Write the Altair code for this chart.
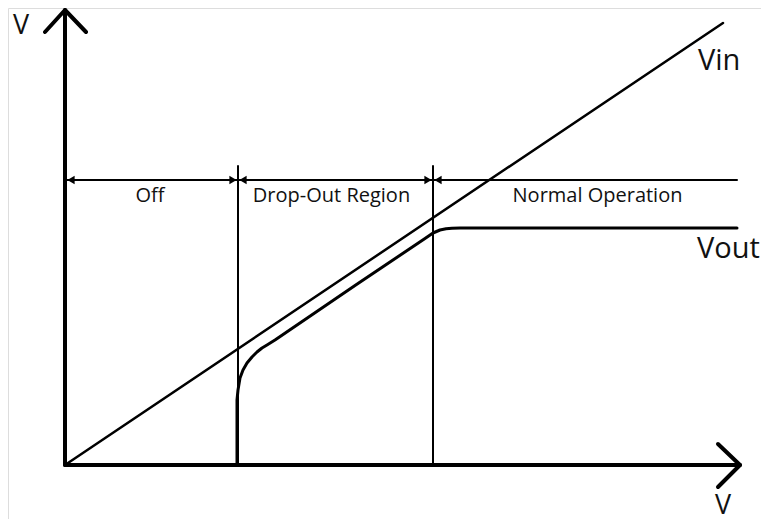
import altair as alt
import pandas as pd

# Coordinates in diagram units (origin at the axes' corner)
yaxis_x = [0, 0]; yaxis_y = [0, 455]
yarrow_x = [-20, 0, 21]; yarrow_y = [433, 455, 433]
xaxis_x = [0, 675]; xaxis_y = [0, 0]
xarrow_x = [653, 675, 653]; xarrow_y = [21, 0, -22]
vin_x = [0, 658]; vin_y = [0, 442]
vout_x = [172, 172, 173, 175, 178, 182, 187, 192, 197, 202, 210, 290, 360, 368, 375, 381, 387, 395, 672]
vout_y = [0, 65, 75, 87, 95, 102, 108, 113, 117, 120, 125, 179.5, 226.5, 232, 235, 236.2, 236.8, 237, 237]
hline_x = [0, 672]; hline_y = [285, 285]
v1_x = [173, 173]; v1_y = [0, 299]
v2_x = [368, 368]; v2_y = [0, 299]

segments = [
    ("yaxis", yaxis_x, yaxis_y, 4),
    ("yarrow", yarrow_x, yarrow_y, 4),
    ("xaxis", xaxis_x, xaxis_y, 4),
    ("xarrow", xarrow_x, xarrow_y, 4),
    ("vin", vin_x, vin_y, 2.5),
    ("vout", vout_x, vout_y, 3),
    ("hline", hline_x, hline_y, 2),
    ("v1", v1_x, v1_y, 2),
    ("v2", v2_x, v2_y, 2),
]

rows = []
for name, xs_, ys_, w in segments:
    for i, (x, y) in enumerate(zip(xs_, ys_)):
        rows.append({"seg": name, "i": i, "x": x, "y": y, "w": w})
lines_df = pd.DataFrame(rows)

# arrowheads on the region line
tri_x = [6, 168, 178, 363, 373]
tri_y = [285, 285, 285, 285, 285]
tri_shape = ["triangle-left", "triangle-right", "triangle-left", "triangle-right", "triangle-left"]
tri_df = pd.DataFrame({"x": tri_x, "y": tri_y, "shape": tri_shape})

# labels
region_labels = ["Off", "Drop-Out Region", "Normal Operation"]
region_x = [85, 266.5, 532.5]
region_y = [263, 263, 263]
region_df = pd.DataFrame({"t": region_labels, "x": region_x, "y": region_y})

big_labels = ["Vin", "Vout"]
big_x = [633, 632]
big_y = [395, 207]
big_df = pd.DataFrame({"t": big_labels, "x": big_x, "y": big_y})

axis_labels = ["V", "V"]
axis_lx = [-52, 650]
axis_ly = [431, -49]
axis_df = pd.DataFrame({"t": axis_labels, "x": axis_lx, "y": axis_ly})

xs = alt.Scale(domain=[-57, 696], nice=False, zero=False)
ys = alt.Scale(domain=[-54, 457], nice=False, zero=False)

lines = alt.Chart(lines_df).mark_line(color="black", strokeCap="round", strokeJoin="round").encode(
    x=alt.X("x:Q", scale=xs, axis=None),
    y=alt.Y("y:Q", scale=ys, axis=None),
    detail="seg:N",
    order="i:Q",
    strokeWidth=alt.StrokeWidth("w:Q", scale=None),
)

tris = alt.Chart(tri_df).mark_point(filled=True, color="black", size=70, opacity=1).encode(
    x=alt.X("x:Q", scale=xs, axis=None),
    y=alt.Y("y:Q", scale=ys, axis=None),
    shape=alt.Shape("shape:N", scale=None),
)

region_text = alt.Chart(region_df).mark_text(
    font="Open Sans", fontSize=20, color="#111111", align="center", baseline="alphabetic"
).encode(
    x=alt.X("x:Q", scale=xs, axis=None),
    y=alt.Y("y:Q", scale=ys, axis=None),
    text="t:N",
)

big_text = alt.Chart(big_df).mark_text(
    font="Open Sans", fontSize=29, color="#111111", align="left", baseline="alphabetic"
).encode(
    x=alt.X("x:Q", scale=xs, axis=None),
    y=alt.Y("y:Q", scale=ys, axis=None),
    text="t:N",
)

axis_text = alt.Chart(axis_df).mark_text(
    font="Open Sans", fontSize=27, color="#111111", align="left", baseline="alphabetic"
).encode(
    x=alt.X("x:Q", scale=xs, axis=None),
    y=alt.Y("y:Q", scale=ys, axis=None),
    text="t:N",
)

chart = alt.layer(lines, tris, region_text, big_text, axis_text).properties(
    width=753, height=511, padding=0, autosize=alt.AutoSizeParams(type="none")
).configure_view(stroke=None).configure(background="white")

chart.save("out.html", embed_options={"renderer": "svg", "actions": False})
